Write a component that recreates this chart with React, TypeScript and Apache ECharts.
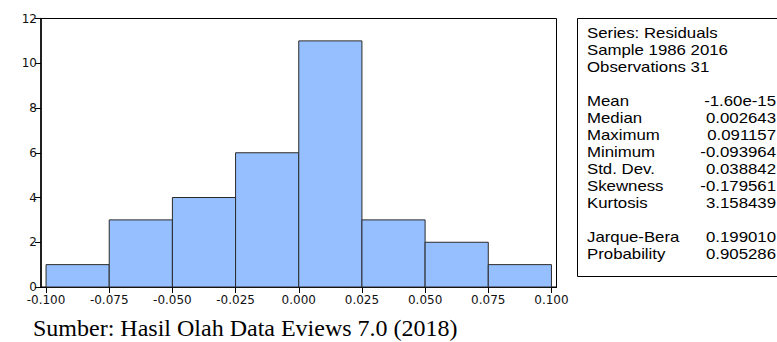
import React, { useEffect, useRef } from "react";
import * as echarts from "echarts";

const binStarts = [-0.1, -0.075, -0.05, -0.025, 0, 0.025, 0.05, 0.075];
const binWidth = 0.025;
const counts = [1, 3, 4, 6, 11, 3, 2, 1];
const xTickValues = [-0.1, -0.075, -0.05, -0.025, 0, 0.025, 0.05, 0.075, 0.1];
const headerLines = ["Series: Residuals", "Sample 1986 2016", "Observations 31"];
const statNames = ["Mean", "Median", "Maximum", "Minimum", "Std. Dev.", "Skewness", "Kurtosis"];
const statValues = ["-1.60e-15", "0.002643", "0.091157", "-0.093964", "0.038842", "-0.179561", "3.158439"];
const testNames = ["Jarque-Bera", "Probability"];
const testValues = ["0.199010", "0.905286"];
const caption = "Sumber: Hasil Olah Data Eviews 7.0 (2018)";

export default function App() {
  const ref = useRef<HTMLDivElement>(null);
  useEffect(() => {
    if (!ref.current) return;
    const chart = echarts.init(ref.current, undefined, { renderer: "svg" });
    const data = binStarts.map((s, i) => [s, s + binWidth, counts[i]]);

    const txtFont = "Liberation Sans, Arial, sans-serif";
    const lineStep = 17;
    const textEl = (text: string, x: number, y: number, align: string) => ({
      type: "text",
      x,
      y,
      scaleX: 1.2,
      z: 50,
      style: {
        text,
        x: 0,
        y: 0,
        fontSize: 14,
        fontFamily: txtFont,
        fill: "#000",
        align,
        verticalAlign: "middle",
      },
    });
    const els: any[] = [];
    headerLines.forEach((t, i) => els.push(textEl(t, 587, 33 + i * lineStep, "left")));
    const meanY = 33 + 4 * lineStep;
    const valueRight = 776;
    statNames.forEach((t, i) => {
      els.push(textEl(t, 587, meanY + i * lineStep, "left"));
      els.push(textEl(statValues[i], valueRight, meanY + i * lineStep, "right"));
    });
    const jbY = meanY + 8 * lineStep;
    testNames.forEach((t, i) => {
      els.push(textEl(t, 587, jbY + i * lineStep, "left"));
      els.push(textEl(testValues[i], valueRight, jbY + i * lineStep, "right"));
    });

    chart.setOption({
      animation: false,
      grid: {
        left: 41,
        right: 220.5,
        top: 18.5,
        bottom: 55,
        show: true,
        borderColor: "#000",
        borderWidth: 1,
        backgroundColor: "transparent",
      },
      xAxis: {
        type: "value",
        min: -0.102,
        max: 0.102,
        axisLine: { show: true, onZero: false, lineStyle: { color: "#000", width: 1.2 } },
        axisTick: { show: true, length: 6, customValues: xTickValues, lineStyle: { color: "#000" } },
        axisLabel: {
          customValues: xTickValues,
          formatter: (v: number) => v.toFixed(3),
          fontSize: 12,
          fontFamily: "DejaVu Sans",
          color: "#111",
          margin: 7,
          showMinLabel: true,
          showMaxLabel: true,
        },
        splitLine: { show: false },
      },
      yAxis: {
        type: "value",
        min: 0,
        max: 12,
        interval: 2,
        axisLine: { show: true, onZero: false, lineStyle: { color: "#000", width: 1.5 } },
        axisTick: { show: true, length: 6, lineStyle: { color: "#000" } },
        axisLabel: {
          fontSize: 12,
          fontFamily: "DejaVu Sans",
          color: "#111",
          margin: 4,
        },
        splitLine: { show: false },
      },
      series: [
        {
          type: "custom",
          data,
          encode: { x: [0, 1], y: 2 },
          renderItem: (params: any, api: any) => {
            const x0 = api.value(0);
            const x1 = api.value(1);
            const c = api.value(2);
            const p0 = api.coord([x0, c]);
            const p1 = api.coord([x1, 0]);
            return {
              type: "rect",
              shape: { x: p0[0], y: p0[1], width: p1[0] - p0[0], height: p1[1] - p0[1] },
              style: { fill: "#96bfff", stroke: "#2a2a2a", lineWidth: 1 },
            };
          },
        },
      ],
      graphic: [
        {
          type: "rect",
          z: 100,
          shape: { x: 0, y: 305, width: 600, height: 10 },
          style: { fill: "#fff" },
        },
        {
          type: "rect",
          z: 40,
          shape: { x: 577.5, y: 18.5, width: 240, height: 258 },
          style: { fill: "#fff", stroke: "#000", lineWidth: 1 },
        },
        ...els,
        {
          type: "text",
          z: 101,
          x: 33,
          y: 328,
          style: {
            text: caption,
            fontSize: 24,
            fontFamily: "Liberation Serif, Times New Roman, serif",
            fill: "#000",
            align: "left",
            verticalAlign: "middle",
          },
        },
      ],
    });
    return () => chart.dispose();
  }, []);
  return (
    <div
      ref={ref}
      style={{ position: "fixed", left: 0, top: 0, width: 777, height: 342, background: "#fff" }}
    />
  );
}
